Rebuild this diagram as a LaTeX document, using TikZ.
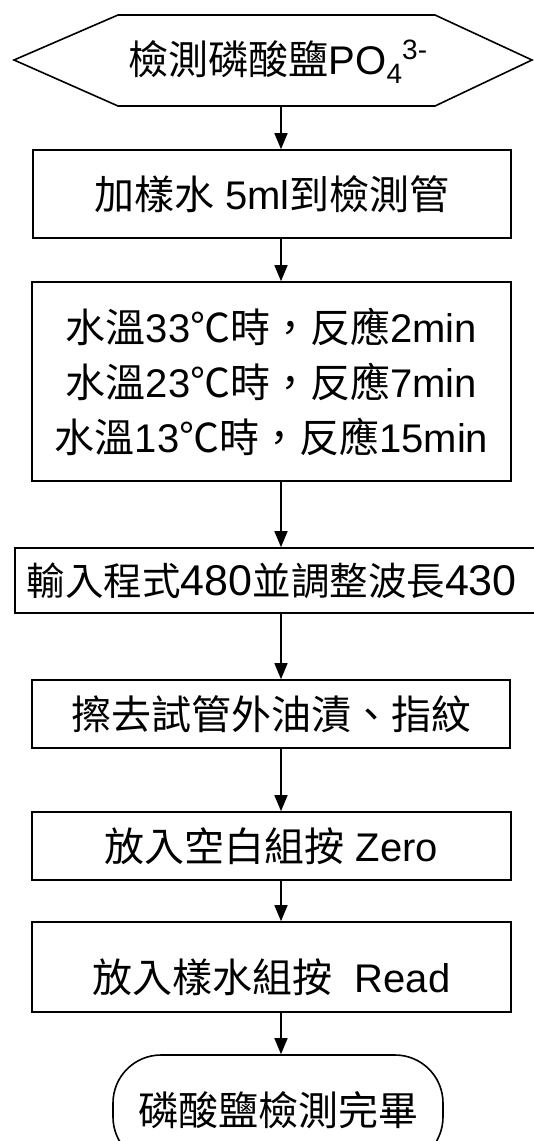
\documentclass[tikz,border=0pt]{standalone}
\usepackage{fontspec}
\setmainfont{Liberation Sans}
\newfontfamily\zh{Noto Sans CJK TC}
\usetikzlibrary{arrows.meta}
\begin{document}
\begin{tikzpicture}[x=1pt,y=-1pt,
  outline/.style={line width=1.6pt, line join=miter},
  box/.style={draw, outline, inner sep=0pt, align=center,
    font=\fontsize{40}{55}\selectfont},
  arr/.style={line width=1.5pt, -{Triangle[width=13pt,length=16pt]}}]
\useasboundingbox (0,0) rectangle (534,1141);
\clip (0,0) rectangle (534,1141);
\coordinate (ax) at (281,0);
% start hexagon
\draw[outline] (14,60) -- (118,15) -- (435,15) -- (532,60) -- (435,106) -- (118,106) -- cycle;
\node[font=\fontsize{40}{48}\selectfont, inner sep=0pt] (start) at (278,62)
  {{\zh 檢測磷酸鹽}PO\raisebox{-9pt}{\fontsize{28}{30}\selectfont 4}\raisebox{15pt}{\fontsize{28}{30}\selectfont 3-}};
\coordinate (startb) at (281,106);
% boxes
\node[box, minimum width=478pt, minimum height=88pt] (b2) at (272,194)
  {{\zh 加樣水} 5ml{\zh 到檢測管}};
\node[box, minimum width=479pt, minimum height=199pt] (b3) at (271.5,381.5)
  {{\zh 水溫}33{\zh ℃時，反應}2min\\
   {\zh 水溫}23{\zh ℃時，反應}7min\\
   {\zh 水溫}13{\zh ℃時，反應}15min};
\node[box, anchor=west, text width=520pt, align=left, inner xsep=12pt,
  minimum height=65pt, font=\fontsize{38.5}{48}\selectfont] (b4) at (14,580.5)
  {{\zh 輸入程式}{\fontsize{43}{48}\selectfont 480}{\zh 並調整波長}{\fontsize{43}{48}\selectfont 430}};
\node[box, minimum width=478pt, minimum height=68pt] (b5) at (271,714)
  {{\zh 擦去試管外油漬、指紋}};
\node[box, minimum width=479pt, minimum height=68pt] (b6) at (271.5,846)
  {{\zh 放入空白組按} Zero};
\node[box, minimum width=479pt, minimum height=90pt, text height=56pt, text depth=5pt] (b7) at (271.5,967)
  {{\zh 放入樣水組按}\hspace{0.55em}Read};
\node[box, rounded corners=48pt, minimum width=330pt, minimum height=110pt] (end) at (278,1110)
  {{\zh 磷酸鹽檢測完畢}};
% connectors
\draw[arr] (startb) -- (b2.north -| ax);
\draw[arr] (b2.south -| ax) -- (b3.north -| ax);
\draw[arr] (b3.south -| ax) -- (b4.north -| ax);
\draw[arr] (b4.south -| ax) -- (b5.north -| ax);
\draw[arr] (b5.south -| ax) -- (b6.north -| ax);
\draw[arr] (b6.south -| ax) -- (b7.north -| ax);
\draw[arr] (b7.south -| ax) -- (end.north -| ax);
\end{tikzpicture}
\end{document}
